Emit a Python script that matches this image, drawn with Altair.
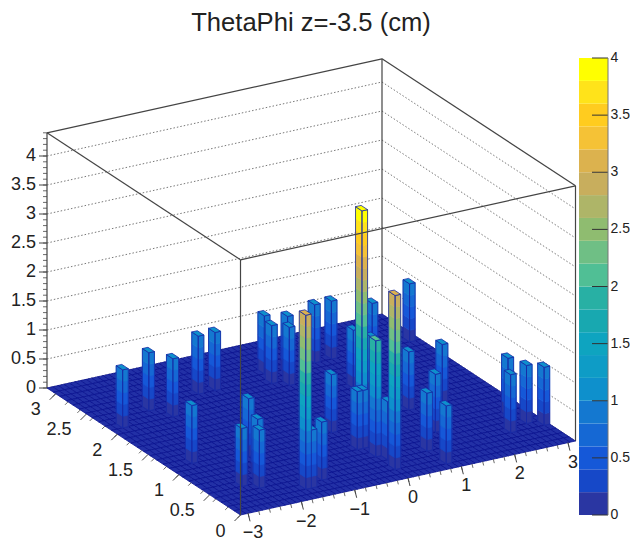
import altair as alt
import math
import pandas as pd

TITLE = "ThetaPhi z=-3.5 (cm)"
FONT = "Liberation Sans"

# histogram contents: non-empty bins (x bin, y bin, content)
bar_ix = [2, 9, 11, 19, 22, 4, 6, 13, 10, 8, 14, 15, 18, 29, 29, 30, 31, 30, 49, 42, 41, 44, 58, 30, 31,
          38, 43, 50, 38, 32, 31, 35, 33, 41, 44, 56, 53, 57, 59]
bar_iy = [20, 22, 20, 23, 23, 11, 5, 10, 6, 4, 2, 2, 3, 11, 7, 7, 8, 5, 22, 16, 18, 12, 24, 2, 4,
          4, 7, 12, 1, 24, 22, 23, 21, 24, 24, 7, 4, 5, 4]
bar_z = [1, 1, 1, 1, 1, 1, 1, 1, 1, 1, 3, 1, 1, 1, 1, 1, 4, 2, 1, 1, 1, 1, 1, 3, 1,
         1, 1, 1, 1, 1, 1, 1, 1, 1, 1, 1, 1, 1, 1]
NX, NY = 60, 30
ZMAX = 4.4

# palette of the 20 contour levels, 0 -> 4 in steps of 0.2
level_colors = ["#2a36a2", "#1648c8", "#1558d8", "#1568d4", "#1478d0", "#0e90cc", "#0e9cc6", "#0ea4c0",
                "#18a8b0", "#28b0a4", "#50bf95", "#6fbf85", "#8fbc70", "#aeb568", "#c8ae5d", "#dcb24e",
                "#f5c236", "#ffcc1f", "#ffe31a", "#ffff00"]
floor_color = "#2230a6"
level_step = 0.2

x_ticks = [-3, -2, -1, 0, 1, 2, 3]
x_minor = [v / 5 for v in range(-15, 16)]
y_ticks = [0, 0.5, 1, 1.5, 2, 2.5, 3]
y_minor = [v / 10 for v in range(0, 32, 2)]
z_ticks = [0, 0.5, 1, 1.5, 2, 2.5, 3, 3.5, 4]
z_minor = [v / 10 for v in range(0, 45)]
FLOOR_LINE = "#0a1390"
BAR_LINE = "#1629a6"
FRAME = "#444444"
TEXT = "#222222"


def fx(x):
    return (x + math.pi) / (2 * math.pi)


def fy(y):
    return y / math.pi


def proj(u, v, z):
    return (240.5 + 335 * u - 193.5 * v, 515 - 74 * u - 127 * v - 58 * z)


def cell(i, j, z=0):
    return proj(i / NX, j / NY, z)


polys = []
rows = []


def add(points, fill, stroke):
    pid = len(polys)
    polys.append(pid)
    pts = list(points) + [points[0]]
    for k, (a, b) in enumerate(pts):
        rows.append(dict(id=pid, k=k, a=a, b=b, f=fill, s=stroke))


for j in range(NY - 1, -1, -1):
    for i in range(NX - 1, -1, -1):
        add([cell(i, j), cell(i + 1, j), cell(i + 1, j + 1), cell(i, j + 1)], floor_color, FLOOR_LINE)

order = sorted(range(len(bar_z)), key=lambda n: -(bar_ix[n] + bar_iy[n]))
for n in order:
    i, j, z = bar_ix[n], bar_iy[n], bar_z[n]
    nb = round(z / level_step)
    for b in range(nb):
        c = level_colors[min(b, 19)]
        z0, z1 = b * level_step, (b + 1) * level_step
        add([cell(i, j, z0), cell(i, j + 1, z0), cell(i, j + 1, z1), cell(i, j, z1)], c, c)
        add([cell(i, j, z0), cell(i + 1, j, z0), cell(i + 1, j, z1), cell(i, j, z1)], c, c)
    add([cell(i, j), cell(i, j + 1), cell(i, j + 1, z), cell(i, j, z)], "transparent", BAR_LINE)
    add([cell(i, j), cell(i + 1, j), cell(i + 1, j, z), cell(i, j, z)], "transparent", BAR_LINE)
    add([cell(i, j, z), cell(i + 1, j, z), cell(i + 1, j + 1, z), cell(i, j + 1, z)],
        level_colors[min(nb, 19)], BAR_LINE)

W, H = 622, 533
X = alt.X("a:Q", scale=alt.Scale(domain=[8, 8 + W]), axis=None)
Y = alt.Y("b:Q", scale=alt.Scale(domain=[8 + H, 8]), axis=None)
X2 = alt.X2("a2:Q")
Y2 = alt.Y2("b2:Q")

lego = alt.Chart(pd.DataFrame(rows)).mark_line(filled=True, strokeWidth=0.8, interpolate="linear").encode(
    x=X, y=Y, detail="id:N", order="k:Q",
    fill=alt.Fill("f:N", scale=None), stroke=alt.Stroke("s:N", scale=None))


def seg(p, q):
    return dict(a=p[0], b=p[1], a2=q[0], b2=q[1])


grid = []
for z in z_ticks:
    grid.append(seg(proj(0, 1, z), proj(1, 1, z)))
    grid.append(seg(proj(1, 1, z), proj(1, 0, z)))
back = [seg(proj(0, 1, 0), proj(0, 1, ZMAX)), seg(proj(1, 1, 0), proj(1, 1, ZMAX)),
        seg(proj(1, 0, 0), proj(1, 0, ZMAX)), seg(proj(0, 1, ZMAX), proj(1, 1, ZMAX)),
        seg(proj(1, 1, ZMAX), proj(1, 0, ZMAX))]
front = [seg(proj(0, 0, 0), proj(0, 0, ZMAX)), seg(proj(0, 1, ZMAX), proj(0, 0, ZMAX)),
         seg(proj(0, 0, ZMAX), proj(1, 0, ZMAX))]


def rule_layer(data, color, width=1.0, dash=None):
    kw = dict(color=color, strokeWidth=width)
    if dash:
        kw["strokeDash"] = dash
    return alt.Chart(pd.DataFrame(data)).mark_rule(**kw).encode(x=X, y=Y, x2=X2, y2=Y2)


ticks_major, ticks_minor, labels = [], [], []
for v in x_ticks:
    p = proj(fx(v), 0, 0)
    ticks_major.append(seg(p, (p[0] + 2, p[1] + 8)))
    labels.append(dict(a=p[0] + 5, b=p[1] + 20, t=str(v).replace("-", "\u2212"), al="center"))
for v in x_minor:
    p = proj(fx(v), 0, 0)
    ticks_minor.append(seg(p, (p[0] + 1, p[1] + 4)))
for v in y_ticks:
    p = proj(0, fy(v), 0)
    ticks_major.append(seg(p, (p[0] - 6, p[1] + 6)))
    labels.append(dict(a=p[0] - 15, b=p[1] + 16.5, t=f"{v:g}", al="right"))
for v in y_minor:
    p = proj(0, fy(v), 0)
    ticks_minor.append(seg(p, (p[0] - 3, p[1] + 3)))
for v in z_ticks:
    p = proj(0, 1, v)
    ticks_major.append(seg(p, (p[0] - 8, p[1])))
    labels.append(dict(a=p[0] - 11, b=p[1], t=f"{v:g}", al="right"))
for v in z_minor:
    p = proj(0, 1, v)
    ticks_minor.append(seg(p, (p[0] - 4, p[1])))

CB_X0, CB_X1, CB_Y0, CB_Y1 = 579, 608, 515, 58


def cb_y(v):
    return CB_Y0 + (CB_Y1 - CB_Y0) * v / 4


cb = [dict(a=CB_X0, a2=CB_X1, b=cb_y(n * level_step), b2=cb_y((n + 1) * level_step), f=c)
      for n, c in enumerate(level_colors)]
cb_rects = alt.Chart(pd.DataFrame(cb)).mark_rect().encode(
    x=X, x2=X2, y=Y, y2=Y2, fill=alt.Fill("f:N", scale=None))
cb_ticks = [seg((CB_X1 - 16, cb_y(v)), (CB_X1, cb_y(v))) for v in z_ticks]
cb_axis = [seg((CB_X1, cb_y(0)), (CB_X1, cb_y(4)))]
cb_labels = [dict(a=CB_X1 + 2.5, b=cb_y(v), t=f"{v:g}", al="left") for v in z_ticks]


def text_layer(data, size, font=FONT):
    layers = []
    d = pd.DataFrame(data)
    for al in d["al"].unique():
        layers.append(alt.Chart(d[d["al"] == al]).mark_text(
            font=font, fontSize=size, color=TEXT, align=al, baseline="middle").encode(x=X, y=Y, text="t:N"))
    return layers


title = text_layer([dict(a=311, b=23, t=TITLE, al="center")], 25.6)

chart = alt.layer(
    rule_layer(grid, "#555555", 0.8, [1.5, 2]),
    rule_layer(back, FRAME, 1.2),
    lego,
    rule_layer(front, FRAME, 1.2),
    rule_layer(ticks_major, FRAME, 1.0),
    rule_layer(ticks_minor, FRAME, 0.8),
    *text_layer(labels, 18),
    cb_rects,
    rule_layer(cb_ticks, "#333333", 1.0),
    rule_layer(cb_axis, "#777777", 1.0),
    *text_layer(cb_labels, 14),
    *title,
).properties(width=W, height=H, padding=0, autosize=alt.AutoSizeParams(type="none")
).configure_view(stroke=None)

chart.save("out.html", embed_options={"renderer": "svg", "actions": False})
